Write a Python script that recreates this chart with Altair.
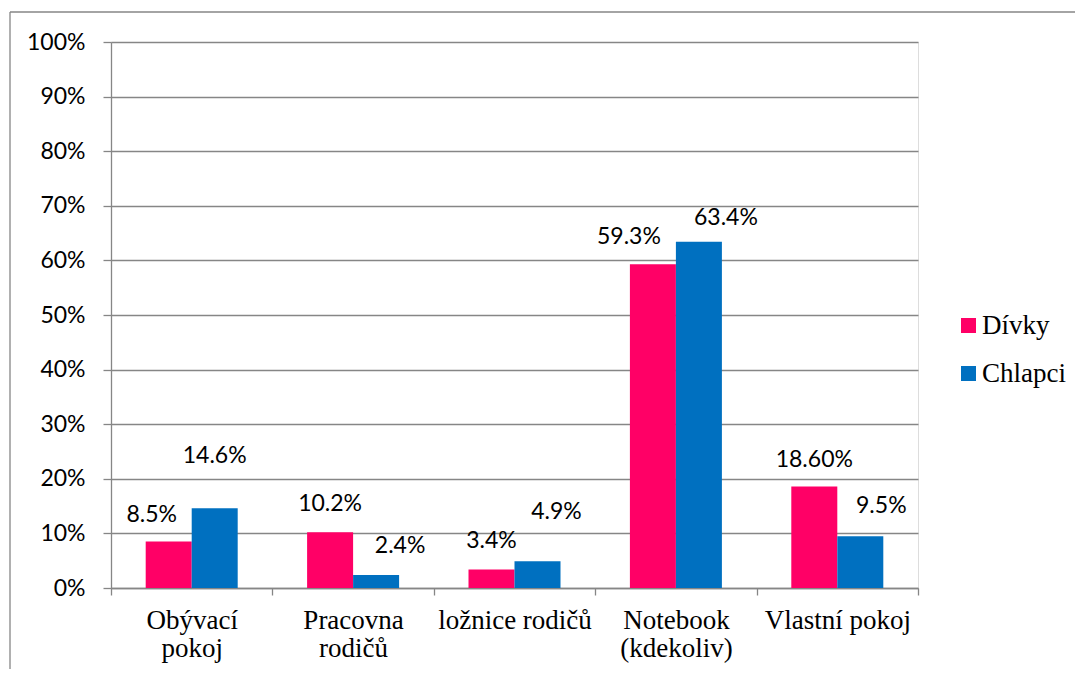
import altair as alt
import pandas as pd

categories = ["Obývací\npokoj", "Pracovna\nrodičů", "ložnice rodičů", "Notebook\n(kdekoliv)", "Vlastní pokoj"]
series = ["Dívky", "Chlapci"]
divky = [0.085, 0.102, 0.034, 0.593, 0.186]
chlapci = [0.146, 0.024, 0.049, 0.634, 0.095]
divky_labels = ["8.5%", "10.2%", "3.4%", "59.3%", "18.60%"]
chlapci_labels = ["14.6%", "2.4%", "4.9%", "63.4%", "9.5%"]
y_ticks = [0, 0.1, 0.2, 0.3, 0.4, 0.5, 0.6, 0.7, 0.8, 0.9, 1.0]

# label nudges in pixels (dx, dy) relative to the bar top centre, as dragged in the original
divky_nudge = [(-17, -20), (0, -21), (0, -21), (-24, -20), (0, -19)]
chlapci_nudge = [(0, -45), (24, -22), (19, -42), (27, -17), (21, -23)]

rows = []
for i, c in enumerate(categories):
    rows.append({"idx": i, "cat": c, "series": "Dívky", "value": divky[i], "label": divky_labels[i]})
    rows.append({"idx": i, "cat": c, "series": "Chlapci", "value": chlapci[i], "label": chlapci_labels[i]})
df = pd.DataFrame(rows)

GRAY = "#868686"
SANS = "Lato"
SERIF = "Liberation Serif"

x_axis = alt.Axis(title=None, labelAngle=0, tickBand="extent", grid=False,
                  domainColor=GRAY, tickColor=GRAY, tickSize=7, domainWidth=1.3, tickWidth=1.3,
                  labelFont=SERIF, labelFontSize=27, labelColor="black", labelLimit=220,
                  labelPadding=12, labelLineHeight=28, labelBaseline="top",
                  labelExpr="split(datum.label, '\\n')")
y_axis = alt.Axis(title=None, values=y_ticks, format=".0%", grid=True,
                  gridColor=GRAY, gridWidth=1.3, domainColor=GRAY, domainWidth=1.3,
                  tickColor=GRAY, tickWidth=1.3, tickSize=8,
                  labelFont=SANS, labelFontSize=23, labelColor="black",
                  labelPadding=18)

x_enc = alt.X("cat:N", sort=categories,
              scale=alt.Scale(paddingInner=0, paddingOuter=0), axis=x_axis)
xo_enc = alt.XOffset("series:N", sort=series,
                     scale=alt.Scale(paddingInner=0, paddingOuter=0.7543))
y_enc = alt.Y("value:Q", scale=alt.Scale(domain=[0, 1], nice=False), axis=y_axis)

base = alt.Chart(df)

bars = base.mark_bar().encode(
    x=x_enc,
    xOffset=xo_enc,
    y=y_enc,
    color=alt.Color("series:N", sort=series,
                    scale=alt.Scale(domain=series, range=["#FF0066", "#0070C0"]),
                    legend=alt.Legend(title=None, orient="none", legendX=844, legendY=270,
                                      symbolType="square", symbolSize=225, symbolStrokeWidth=0,
                                      labelFont=SERIF, labelFontSize=27, labelColor="black",
                                      labelOffset=0, rowPadding=20, padding=0)),
)

layers = [bars]
for s, nudges in (("Dívky", divky_nudge), ("Chlapci", chlapci_nudge)):
    for i, (dx, dy) in enumerate(nudges):
        t = base.transform_filter(
            (alt.datum.idx == i) & (alt.datum.series == s)
        ).mark_text(dx=dx, dy=dy, align="center", baseline="alphabetic",
                    font=SANS, fontSize=23, color="black").encode(
            x=x_enc,
            xOffset=xo_enc,
            y=y_enc,
            text="label:N",
        )
        layers.append(t)

frame_data = alt.Data(values=[{"k": 1}])
left_border = alt.Chart(frame_data).mark_rule(color=GRAY, strokeWidth=1.3).encode(
    x=alt.value(-101), y=alt.value(-30), y2=alt.value(700))
top_border = alt.Chart(frame_data).mark_rule(color=GRAY, strokeWidth=1.3).encode(
    x=alt.value(-101), x2=alt.value(1100), y=alt.value(-30))
layers += [left_border, top_border]

chart = alt.layer(*layers).properties(
    width=807, height=546,
    autosize=alt.AutoSizeParams(type="none"),
    padding={"left": 103, "top": 34, "right": 157, "bottom": 81},
).configure_view(stroke=None).configure(background="white")

chart.save("out.html", embed_options={"renderer": "svg", "actions": False})
